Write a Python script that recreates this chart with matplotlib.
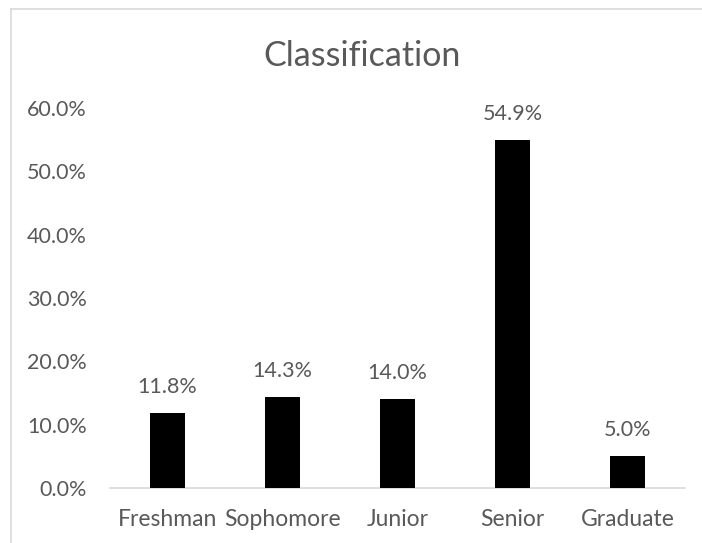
import matplotlib
matplotlib.use('Agg')

import matplotlib.pyplot as plt
from matplotlib.lines import Line2D
import numpy as np

categories = ["Freshman", "Sophomore", "Junior", "Senior", "Graduate"]
percent = [11.8, 14.3, 14.0, 54.9, 5.0]
y_ticks = [0, 10, 20, 30, 40, 50, 60]

W, H = 702, 543
text_color = '#595959'
line_color = '#d9d9d9'

plt.rcParams['font.family'] = ['Lato', 'DejaVu Sans']

fig = plt.figure(figsize=(W / 100, H / 100), dpi=100)

# Plot area placed in pixel units.
left, right, bottom, top = 110, 685, 488, 108
ax = fig.add_axes([left / W, 1 - bottom / H, (right - left) / W, (bottom - top) / H])

x = np.arange(len(categories))
ax.bar(x, percent, width=0.313, color='black', zorder=3)

ax.set_xlim(-0.5, len(categories) - 0.5)
ax.set_ylim(0, 60)

ax.set_yticks(y_ticks)
ax.set_yticklabels([f"{v:.1f}%" for v in y_ticks])
ax.set_xticks(x)
ax.set_xticklabels(categories)
ax.tick_params(axis='both', length=0, labelsize=15.5, labelcolor=text_color)
ax.tick_params(axis='x', labelsize=16.5, pad=15)
ax.tick_params(axis='y', pad=16.5)

for side in ['top', 'right', 'left']:
    ax.spines[side].set_visible(False)
ax.spines['bottom'].set_color(line_color)
ax.spines['bottom'].set_linewidth(1.2)

# Data labels above each bar.
for xi, v in zip(x, percent):
    ax.annotate(f"{v:.1f}%", (xi, v), xytext=(0, 19), textcoords='offset points',
                ha='center', va='center', fontsize=15.5, color=text_color)

fig.text(362 / W, 1 - 56 / H, "Classification", ha='center', va='center',
         fontsize=24.5, color=text_color)

# Chart border (only the top and left sides are visible in the crop).
fig.add_artist(Line2D([11 / W, 11 / W], [0, 1 - 9 / H], transform=fig.transFigure,
                      color=line_color, linewidth=1.2))
fig.add_artist(Line2D([11 / W, 1], [1 - 9 / H, 1 - 9 / H], transform=fig.transFigure,
                      color=line_color, linewidth=1.2))

plt.savefig("out.png", dpi=100)
plt.close(fig)
